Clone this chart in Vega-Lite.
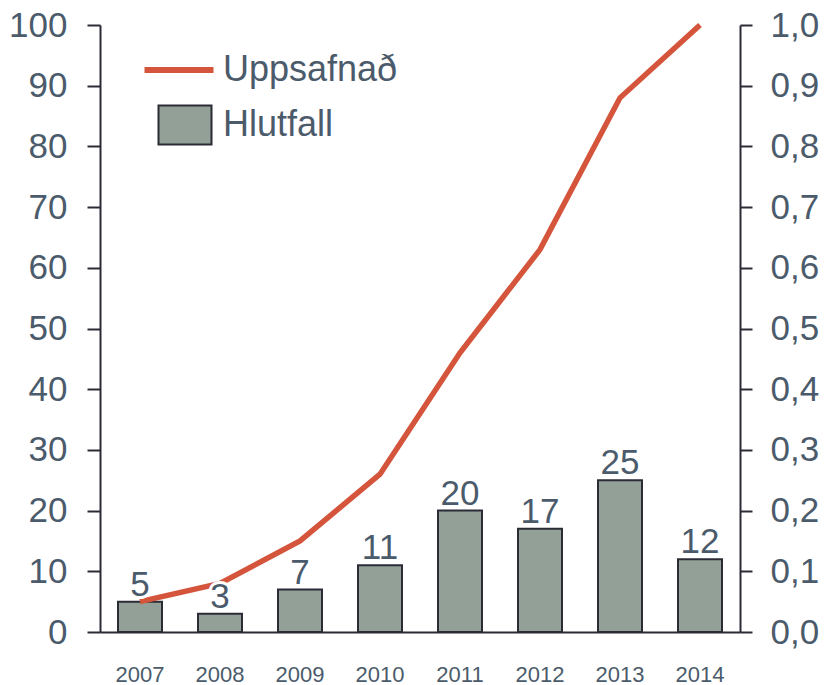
{
  "$schema": "https://vega.github.io/schema/vega-lite/v6.json",
  "autosize": "none",
  "width": 640,
  "height": 607,
  "padding": {"left": 100, "top": 25, "right": 85, "bottom": 53},
  "background": "white",
  "config": {
    "font": "Liberation Sans",
    "view": {"stroke": null},
    "axis": {
      "grid": false,
      "domainColor": "#2b2b36",
      "domainWidth": 2,
      "tickColor": "#2b2b36",
      "tickWidth": 2,
      "labelColor": "#4b5b6b",
      "labelFont": "Liberation Sans",
      "title": null
    },
    "legend": {
      "title": null,
      "padding": 0,
      "symbolSize": 1600,
      "labelFontSize": 36,
      "labelFont": "Liberation Sans",
      "labelColor": "#4b5b6b",
      "labelLimit": 400,
      "symbolOpacity": 1
    }
  },
  "data": {
    "values": [
      {"year": "2007", "hlutfall": 5, "uppsafnad": 0.05},
      {"year": "2008", "hlutfall": 3, "uppsafnad": 0.08},
      {"year": "2009", "hlutfall": 7, "uppsafnad": 0.15},
      {"year": "2010", "hlutfall": 11, "uppsafnad": 0.26},
      {"year": "2011", "hlutfall": 20, "uppsafnad": 0.46},
      {"year": "2012", "hlutfall": 17, "uppsafnad": 0.63},
      {"year": "2013", "hlutfall": 25, "uppsafnad": 0.88},
      {"year": "2014", "hlutfall": 12, "uppsafnad": 1.0}
    ]
  },
  "encoding": {
    "x": {
      "field": "year",
      "type": "ordinal",
      "scale": {"paddingInner": 0.45, "paddingOuter": 0.225},
      "axis": {"ticks": false, "labelPadding": 32, "labelFontSize": 22, "labelAngle": 0, "title": null}
    }
  },
  "layer": [
    {
      "mark": {"type": "bar", "stroke": "#2b2b36", "strokeWidth": 2},
      "encoding": {
        "y": {
          "field": "hlutfall",
          "type": "quantitative",
          "scale": {"domain": [0, 100]},
          "axis": {
            "orient": "left",
            "values": [0, 10, 20, 30, 40, 50, 60, 70, 80, 90, 100],
            "tickSize": 13,
            "labelPadding": 20,
            "labelFontSize": 35,
            "labelFlush": false,
            "labelOverlap": false,
            "title": null
          }
        },
        "fill": {
          "datum": "Hlutfall",
          "type": "nominal",
          "scale": {"range": ["#93a097"]},
          "legend": {
            "orient": "none",
            "legendX": 64,
            "legendY": 79,
            "labelOffset": 17,
            "symbolType": "M-1.325,-0.975L1.325,-0.975L1.325,0.975L-1.325,0.975Z",
            "symbolFillColor": "#93a097",
            "symbolStrokeColor": "#2b2b36",
            "symbolStrokeWidth": 2
          }
        }
      }
    },
    {
      "mark": {"type": "line", "strokeWidth": 5.5},
      "encoding": {
        "y": {
          "field": "uppsafnad",
          "type": "quantitative",
          "scale": {"domain": [0, 1]},
          "axis": {
            "orient": "right",
            "values": [0, 0.1, 0.2, 0.3, 0.4, 0.5, 0.6, 0.7, 0.8, 0.9, 1.0],
            "tickSize": 12,
            "labelPadding": 18,
            "labelFontSize": 35,
            "labelFlush": false,
            "labelOverlap": false,
            "labelExpr": "replace(format(datum.value, '.1f'), '.', ',')",
            "title": null
          }
        },
        "stroke": {
          "datum": "Uppsafnað",
          "type": "nominal",
          "scale": {"range": ["#d4553b"]},
          "legend": {
            "orient": "none",
            "legendX": 64,
            "legendY": 22,
            "labelOffset": 13,
            "symbolType": "M-2.125,0L1.325,0",
            "symbolStrokeColor": "#d4553b",
            "symbolStrokeWidth": 6
          }
        }
      }
    },
    {
      "mark": {"type": "text", "fontSize": 35, "baseline": "alphabetic", "dy": -6, "fill": "white", "stroke": "white", "strokeWidth": 6},
      "encoding": {
        "y": {"field": "hlutfall", "type": "quantitative", "scale": {"domain": [0, 100]}, "axis": null},
        "text": {"field": "hlutfall", "type": "quantitative"}
      }
    },
    {
      "mark": {"type": "text", "fontSize": 35, "baseline": "alphabetic", "dy": -6, "fill": "#4b5b6b"},
      "encoding": {
        "y": {"field": "hlutfall", "type": "quantitative", "scale": {"domain": [0, 100]}, "axis": null},
        "text": {"field": "hlutfall", "type": "quantitative"}
      }
    }
  ],
  "resolve": {"scale": {"y": "independent"}, "axis": {"y": "independent"}}
}
